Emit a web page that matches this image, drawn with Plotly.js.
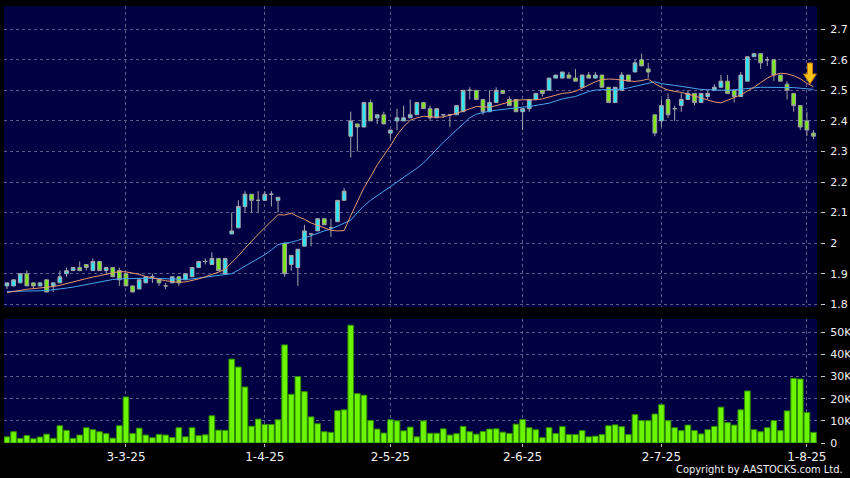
<!DOCTYPE html>
<html><head><meta charset="utf-8">
<script src="https://cdn.plot.ly/plotly-3.0.1.min.js"></script>
<style>html,body{margin:0;padding:0;background:#000;overflow:hidden}#chart{width:850px;height:478px}</style>
</head><body><div id="chart"></div>
<script>
// ---- data ----
const dates = [
'2025-02-05','2025-02-06','2025-02-07','2025-02-10','2025-02-11','2025-02-12','2025-02-13','2025-02-14','2025-02-17','2025-02-18','2025-02-19','2025-02-20','2025-02-21','2025-02-24','2025-02-25','2025-02-26','2025-02-27','2025-02-28',
'2025-03-03','2025-03-04','2025-03-05','2025-03-06','2025-03-07','2025-03-10','2025-03-11','2025-03-12','2025-03-13','2025-03-14','2025-03-17','2025-03-18','2025-03-19','2025-03-20','2025-03-21','2025-03-24','2025-03-25','2025-03-26','2025-03-27','2025-03-28','2025-03-31',
'2025-04-01','2025-04-02','2025-04-03','2025-04-07','2025-04-08','2025-04-09','2025-04-10','2025-04-11','2025-04-14','2025-04-15','2025-04-16','2025-04-17','2025-04-22','2025-04-23','2025-04-24','2025-04-25','2025-04-28','2025-04-29','2025-04-30',
'2025-05-02','2025-05-06','2025-05-07','2025-05-08','2025-05-09','2025-05-12','2025-05-13','2025-05-14','2025-05-15','2025-05-16','2025-05-19','2025-05-20','2025-05-21','2025-05-22','2025-05-23','2025-05-26','2025-05-27','2025-05-28','2025-05-29','2025-05-30',
'2025-06-02','2025-06-03','2025-06-04','2025-06-05','2025-06-06','2025-06-09','2025-06-10','2025-06-11','2025-06-12','2025-06-13','2025-06-16','2025-06-17','2025-06-18','2025-06-19','2025-06-20','2025-06-23','2025-06-24','2025-06-25','2025-06-26','2025-06-27','2025-06-30',
'2025-07-02','2025-07-03','2025-07-04','2025-07-07','2025-07-08','2025-07-09','2025-07-10','2025-07-11','2025-07-14','2025-07-15','2025-07-16','2025-07-17','2025-07-18','2025-07-21','2025-07-22','2025-07-23','2025-07-24','2025-07-25','2025-07-28','2025-07-29','2025-07-30','2025-07-31',
'2025-08-01','2025-08-04'];

const openP = [
1.86,1.86,1.87,1.90,1.87,1.86,1.88,1.86,1.87,1.90,1.91,1.92,1.93,1.91,1.94,1.91,1.92,1.91,
1.90,1.86,1.85,1.87,1.89,1.88,1.86,1.87,1.89,1.88,1.89,1.92,1.94,1.93,1.95,1.90,2.03,2.05,2.12,2.16,2.14,
2.14,2.16,2.14,2.00,1.93,1.92,1.99,2.03,2.04,2.08,2.05,2.07,2.14,2.35,2.39,2.38,2.46,2.41,2.42,
2.36,2.40,2.40,2.41,2.42,2.46,2.44,2.41,2.42,2.42,2.42,2.43,2.50,2.50,2.47,2.43,2.46,2.50,2.47,2.47,
2.43,2.44,2.47,2.50,2.50,2.54,2.54,2.55,2.54,2.51,2.55,2.54,2.55,2.51,2.46,2.50,2.55,2.56,2.60,2.57,2.42,
2.40,2.47,2.44,2.45,2.47,2.49,2.46,2.48,2.50,2.51,2.53,2.50,2.48,2.53,2.61,2.62,2.60,2.60,2.55,2.52,2.49,2.45,
2.40,2.36];
const highP = [
1.87,1.88,1.90,1.91,1.87,1.87,1.88,1.87,1.91,1.92,1.92,1.94,1.93,1.95,1.94,1.92,1.92,1.92,
1.90,1.86,1.88,1.89,1.90,1.88,1.87,1.89,1.89,1.90,1.92,1.94,1.95,1.97,1.95,1.95,2.10,2.14,2.17,2.16,2.17,
2.17,2.17,2.15,2.00,1.96,1.98,2.06,2.03,2.08,2.08,2.08,2.14,2.18,2.43,2.39,2.46,2.47,2.42,2.43,
2.37,2.44,2.45,2.47,2.46,2.46,2.45,2.44,2.42,2.42,2.45,2.50,2.51,2.50,2.47,2.50,2.51,2.50,2.48,2.47,
2.44,2.47,2.49,2.50,2.54,2.55,2.56,2.56,2.57,2.55,2.56,2.56,2.55,2.51,2.51,2.56,2.55,2.60,2.62,2.59,2.42,
2.47,2.49,2.45,2.49,2.50,2.49,2.49,2.50,2.52,2.55,2.55,2.50,2.56,2.61,2.62,2.62,2.61,2.60,2.55,2.53,2.49,2.45,
2.43,2.37];
const lowP = [
1.85,1.86,1.87,1.86,1.85,1.86,1.84,1.84,1.87,1.89,1.91,1.91,1.91,1.91,1.91,1.90,1.89,1.86,
1.86,1.84,1.85,1.87,1.87,1.86,1.85,1.87,1.86,1.88,1.89,1.92,1.93,1.93,1.91,1.90,2.03,2.05,2.10,2.10,2.10,
2.14,2.12,2.10,1.89,1.91,1.86,1.99,1.99,2.04,2.06,2.02,2.07,2.14,2.28,2.30,2.38,2.40,2.39,2.39,
2.34,2.37,2.40,2.41,2.42,2.44,2.40,2.41,2.41,2.38,2.42,2.43,2.47,2.47,2.42,2.43,2.46,2.49,2.45,2.43,
2.37,2.43,2.47,2.48,2.50,2.54,2.54,2.54,2.53,2.51,2.54,2.54,2.51,2.46,2.46,2.50,2.53,2.56,2.58,2.54,2.35,
2.38,2.41,2.40,2.43,2.47,2.45,2.46,2.47,2.50,2.51,2.49,2.46,2.48,2.53,2.61,2.57,2.58,2.53,2.53,2.47,2.43,2.37,
2.35,2.34];
const closeP = [
1.87,1.88,1.90,1.86,1.86,1.87,1.84,1.87,1.89,1.91,1.92,1.91,1.92,1.94,1.91,1.92,1.89,1.88,
1.86,1.84,1.88,1.89,1.89,1.87,1.86,1.89,1.87,1.90,1.92,1.94,1.94,1.95,1.91,1.95,2.04,2.12,2.16,2.14,2.14,
2.16,2.16,2.15,1.90,1.96,1.98,2.04,2.03,2.08,2.06,2.05,2.14,2.17,2.40,2.38,2.46,2.40,2.42,2.39,
2.37,2.41,2.41,2.42,2.46,2.44,2.41,2.44,2.42,2.42,2.45,2.50,2.50,2.47,2.43,2.46,2.50,2.49,2.45,2.43,
2.44,2.47,2.49,2.49,2.54,2.55,2.56,2.54,2.53,2.55,2.54,2.55,2.51,2.46,2.51,2.55,2.53,2.59,2.58,2.56,2.36,
2.45,2.42,2.44,2.47,2.49,2.46,2.49,2.49,2.51,2.53,2.49,2.48,2.55,2.61,2.62,2.59,2.60,2.55,2.53,2.50,2.45,2.38,
2.37,2.35];

// moving-average lines as drawn on the reference (orange = short, blue = long)
const maShort = [
1.838,1.842,1.846,1.849,1.851,1.853,1.855,1.858,1.862,1.868,1.873,1.879,1.884,1.889,1.894,1.899,1.903,1.907,
1.906,1.903,1.898,1.891,1.886,1.881,1.877,1.874,1.872,1.873,1.877,1.883,1.890,1.897,1.905,1.915,1.935,1.958,1.983,2.007,2.029,
2.051,2.073,2.093,2.092,2.098,2.087,2.078,2.066,2.058,2.052,2.042,2.040,2.041,2.090,2.133,2.181,2.217,2.256,2.287,
2.318,2.354,2.381,2.402,2.410,2.415,2.413,2.412,2.413,2.418,2.425,2.432,2.440,2.447,2.446,2.445,2.450,2.456,2.463,2.468,
2.469,2.469,2.469,2.472,2.478,2.484,2.490,2.492,2.497,2.507,2.518,2.528,2.535,2.537,2.536,2.534,2.531,2.529,2.532,2.537,2.522,
2.510,2.501,2.498,2.493,2.488,2.482,2.474,2.469,2.462,2.459,2.468,2.478,2.485,2.498,2.510,2.525,2.540,2.550,2.556,2.554,2.548,2.538,
2.523,2.512];
const maLong = [
1.842,1.842,1.843,1.843,1.844,1.844,1.845,1.847,1.850,1.853,1.856,1.860,1.865,1.870,1.874,1.878,1.881,1.883,
1.884,1.885,1.885,1.885,1.885,1.884,1.883,1.882,1.881,1.881,1.883,1.886,1.889,1.892,1.893,1.896,1.900,1.912,1.925,1.937,1.950,
1.962,1.978,1.995,2.000,2.003,2.009,2.017,2.024,2.033,2.040,2.046,2.055,2.064,2.075,2.100,2.122,2.140,2.155,2.170,
2.185,2.200,2.213,2.228,2.245,2.262,2.285,2.310,2.330,2.350,2.370,2.392,2.410,2.422,2.428,2.432,2.435,2.438,2.441,2.443,
2.445,2.447,2.451,2.454,2.458,2.465,2.472,2.476,2.480,2.488,2.496,2.501,2.502,2.502,2.503,2.504,2.508,2.513,2.518,2.523,2.528,
2.522,2.518,2.516,2.513,2.509,2.505,2.503,2.502,2.501,2.500,2.500,2.502,2.504,2.507,2.509,2.510,2.510,2.510,2.510,2.510,2.509,2.507,
2.505,2.503];

const volume = [
2800,5100,2100,3400,1900,2700,4000,2100,7800,5700,2100,3600,6900,6000,5100,4200,2200,7800,
20800,4300,6700,3600,2400,3900,3600,2500,6900,2800,6900,3300,3700,12300,5800,5700,37900,34300,25300,7600,10800,
8400,8400,10500,44300,22000,30000,23200,11800,8700,5100,4800,14600,15000,53200,22300,21600,10200,6300,4500,
10500,10000,5500,7200,2800,10000,4400,4400,6400,3600,4200,7500,5100,4000,5200,6300,6400,4900,4300,8500,
10600,6900,6000,2400,6900,4300,7400,3800,3800,5600,2800,3100,3800,7800,8200,7400,3800,12800,10100,10100,13100,
17300,10100,6900,5600,8100,5600,4100,6000,7500,16200,9200,8100,15000,23500,6000,5100,6900,10100,5600,14500,29200,28900,
13800,4800];

const xTickDates  = ['2025-03-03','2025-04-01','2025-05-02','2025-06-02','2025-07-02','2025-08-01'];
const xTickLabels = ['3-3-25','1-4-25','2-5-25','2-6-25','2-7-25','1-8-25'];
const priceTicks  = [1.8,1.9,2,2.1,2.2,2.3,2.4,2.5,2.6,2.7];
const priceLabels = ['1.8','1.9','2','2.1','2.2','2.3','2.4','2.5','2.6','2.7'];
const volTicks    = [0,10000,20000,30000,40000,50000];
const volLabels   = ['0','10K','20K','30K','40K','50K'];

// ---- styling ----
const W = 850, H = 478, ML = 4, MR = 30, MT = 6, MB = 35;
const plotW = W - ML - MR, plotH = H - MT - MB;
const px = v => (v - ML) / plotW;      // page pixel -> paper x
const py = v => (H - MB - v) / plotH;  // page pixel -> paper y
const GRID = '#5c5c8c';
const TXT = '#f0f0f0';
const FONT = 'DejaVu Sans, sans-serif';

const traces = [
  {type:'candlestick', x:dates, open:openP, high:highP, low:lowP, close:closeP,
   xaxis:'x', yaxis:'y', whiskerwidth:0, hoverinfo:'skip',
   increasing:{fillcolor:'#2ee6f2', line:{color:'#a8a8b0', width:1}},
   decreasing:{fillcolor:'#7ce81a', line:{color:'#a0a0a0', width:1}}},
  {type:'scatter', mode:'lines', x:dates, y:maLong, xaxis:'x', yaxis:'y',
   line:{color:'#4aa6ee', width:1}, hoverinfo:'skip'},
  {type:'scatter', mode:'lines', x:dates, y:maShort, xaxis:'x', yaxis:'y',
   line:{color:'#e89a70', width:1}, hoverinfo:'skip'},
  {type:'bar', x:dates, y:volume, xaxis:'x2', yaxis:'y2', hoverinfo:'skip',
   marker:{color:'#6cf500', line:{color:'#2e8a00', width:1}}}
];

const xDom = [0, (817 - ML) / plotW];
const axisX = {
  type:'category', domain:xDom, range:[-0.45, 122.53], fixedrange:true,
  tickmode:'array', tickvals:xTickDates, ticktext:xTickLabels,
  showgrid:true, gridcolor:GRID, griddash:'3px,3px', gridwidth:1,
  zeroline:false, showline:false
};
const layout = {
  width:W, height:H, margin:{l:ML, r:MR, t:MT, b:MB, pad:0},
  paper_bgcolor:'#000000', plot_bgcolor:'#000042',
  showlegend:false, boxgap:0.2, bargap:0.14,
  font:{family:FONT, color:TXT, size:11},
  xaxis: Object.assign({}, axisX, {anchor:'y', showticklabels:false, ticks:'', rangeslider:{visible:false}}),
  xaxis2: Object.assign({}, axisX, {anchor:'y2', matches:'x', showticklabels:true, ticks:'outside',
    ticklen:3, tickcolor:'#bbbbbb', tickfont:{family:FONT, size:12, color:TXT}}),
  yaxis: {domain:[(H - MB - 307) / plotH, 1], range:[1.791, 2.776], side:'right', anchor:'free', position:1,
    tickmode:'array', tickvals:priceTicks, ticktext:priceLabels, ticks:'outside', ticklen:4, tickcolor:'#cccccc',
    ticklabelstandoff:3, tickfont:{family:FONT, size:11, color:TXT},
    showgrid:true, gridcolor:GRID, griddash:'3px,3px', zeroline:false, showline:false, fixedrange:true},
  yaxis2: {domain:[0, (H - MB - 319) / plotH], range:[0, 56000], side:'right', anchor:'free', position:1,
    tickmode:'array', tickvals:volTicks, ticktext:volLabels, ticks:'outside', ticklen:4, tickcolor:'#cccccc',
    ticklabelstandoff:3, tickfont:{family:FONT, size:11, color:TXT},
    showgrid:true, gridcolor:GRID, griddash:'3px,3px', zeroline:false, showline:false, fixedrange:true},
  shapes: [
    {type:'path', xref:'paper', yref:'paper', layer:'above',
     path:'M '+px(807.5)+' '+py(63)+' L '+px(812.5)+' '+py(63)+' L '+px(812.5)+' '+py(74)+
          ' L '+px(816.5)+' '+py(74)+' L '+px(810)+' '+py(84)+' L '+px(803.5)+' '+py(74)+
          ' L '+px(807.5)+' '+py(74)+' Z',
     fillcolor:'#f7c31c', line:{color:'#c27a00', width:1}}
  ],
  annotations: [
    {xref:'paper', yref:'paper', x:px(845), y:py(470), xanchor:'right', yanchor:'middle', showarrow:false,
     text:'Copyright by AASTOCKS.com Ltd.', font:{family:'DejaVu Sans Condensed, DejaVu Sans, sans-serif', size:11, color:TXT}}
  ]
};
Plotly.newPlot('chart', traces, layout, {displayModeBar:false, staticPlot:true});
</script>
</body></html>
